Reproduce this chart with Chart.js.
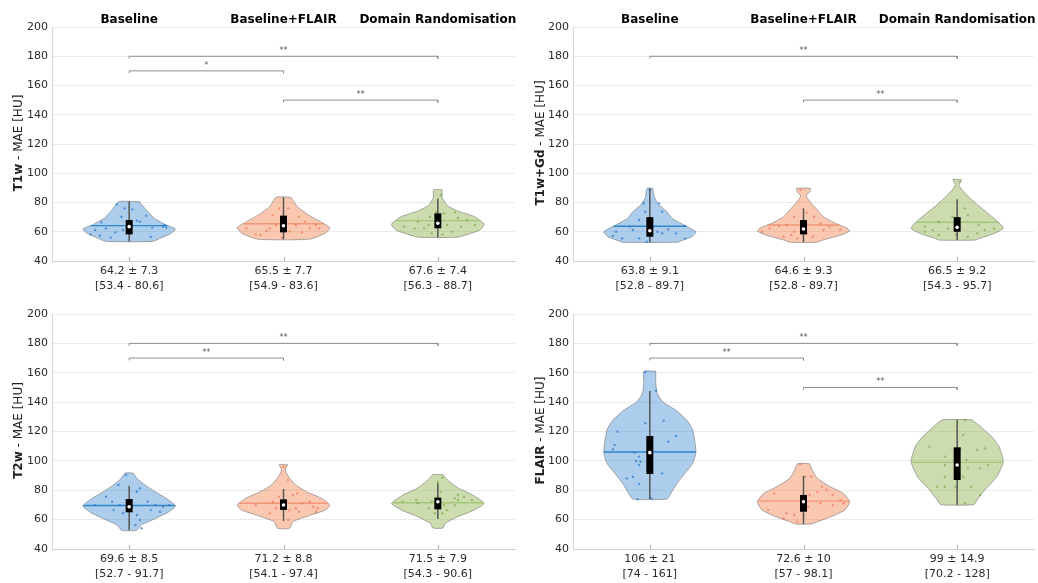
<!DOCTYPE html>
<html>
<head>
<meta charset="utf-8">
<script src="https://cdn.jsdelivr.net/npm/chart.js@4.4.1/dist/chart.umd.min.js"></script>
<style>
body{margin:0;background:#fff;width:1038px;height:583px;overflow:hidden;position:relative}
canvas{position:absolute}
</style>
</head>
<body>
<canvas id="c1" width="519" height="292" style="left:0;top:0"></canvas>
<canvas id="c2" width="518" height="292" style="left:520px;top:0"></canvas>
<canvas id="c3" width="519" height="291" style="left:0;top:292px"></canvas>
<canvas id="c4" width="518" height="291" style="left:520px;top:292px"></canvas>
<script>
// categories and panels
const categories = ["Baseline", "Baseline+FLAIR", "Domain Randomisation"]
const panelNames = ["T1w", "T1w+Gd", "T2w", "FLAIR"]

// summary numbers printed under each violin
const t1wMean = [64.2, 65.5, 67.6], t1wSd = [7.3, 7.7, 7.4], t1wMin = [53.4, 54.9, 56.3], t1wMax = [80.6, 83.6, 88.7]
const gdMean = [63.8, 64.6, 66.5], gdSd = [9.1, 9.3, 9.2], gdMin = [52.8, 52.8, 54.3], gdMax = [89.7, 89.7, 95.7]
const t2wMean = [69.6, 71.2, 71.5], t2wSd = [8.5, 8.8, 7.9], t2wMin = [52.7, 54.1, 54.3], t2wMax = [91.7, 97.4, 90.6]
const flairMean = [106, 72.6, 99], flairSd = [21, 10, 14.9], flairMin = [74, 57, 70.2], flairMax = [161, 98.1, 128]

// box: [q1, median, q3], whiskers: [low, high]
const t1wBox = [[58.2, 63.5, 68.0], [59.6, 64.1, 71.0], [62.4, 65.8, 72.6]]
const t1wWhisker = [[53.4, 80.6], [54.9, 83.6], [56.3, 82.5]]
const gdBox = [[56.6, 60.7, 70.0], [58.2, 61.9, 68.0], [60.0, 63.0, 70.0]]
const gdWhisker = [[52.8, 89.7], [52.8, 76.0], [54.3, 82.2]]
const t2wBox = [[65.0, 68.8, 74.0], [66.6, 70.0, 73.8], [67.0, 72.2, 75.0]]
const t2wWhisker = [[52.7, 83.1], [59.0, 80.9], [60.4, 84.7]]
const flairBox = [[91.1, 105.6, 116.9], [65.4, 72.2, 76.8], [87.0, 97.2, 109.2]]
const flairWhisker = [[74, 147.6], [57, 89.9], [70.2, 128]]

// violin density profiles: values (top to bottom) and relative density
const t1wProfY = [
  [80.6, 74.9, 69.2, 64.6, 61.9, 59.0, 55.5, 53.4],
  [83.6, 77.1, 71.5, 66.9, 62.8, 59.0, 54.9],
  [88.7, 82.9, 77.8, 74.2, 70.5, 65.3, 61.2, 58.3, 56.3]]
const t1wProfD = [
  [0.22, 0.37, 0.54, 0.80, 1.0, 0.91, 0.67, 0.50],
  [0.16, 0.30, 0.54, 0.80, 1.0, 0.90, 0.56],
  [0.09, 0.10, 0.21, 0.43, 0.78, 1.0, 0.91, 0.65, 0.43]]
const gdProfY = [
  [89.7, 83.4, 78.3, 73.7, 69.2, 64.6, 60.0, 56.6, 53.7, 52.8],
  [89.7, 87.5, 84.4, 79.4, 74.9, 70.3, 65.8, 62.4, 60.5, 57.8, 54.4, 52.8],
  [95.7, 92.0, 88.5, 82.9, 77.1, 71.5, 65.8, 62.4, 59.0, 55.5, 54.3]]
const gdProfD = [
  [0.06, 0.10, 0.20, 0.37, 0.48, 0.74, 1.0, 0.91, 0.67, 0.60],
  [0.15, 0.14, 0.06, 0.17, 0.30, 0.43, 0.69, 0.95, 1.0, 0.82, 0.43, 0.28],
  [0.09, 0.04, 0.11, 0.28, 0.49, 0.71, 0.92, 1.0, 0.82, 0.49, 0.39]]
const t2wProfY = [
  [91.7, 88.1, 83.6, 79.0, 74.5, 69.3, 65.4, 60.9, 56.3, 52.7],
  [97.4, 93.8, 89.2, 83.6, 79.0, 74.5, 70.0, 66.6, 63.1, 58.6, 54.1],
  [90.6, 87.0, 81.3, 76.8, 71.1, 66.6, 62.0, 57.5, 54.3]]
const t2wProfD = [
  [0.09, 0.17, 0.34, 0.56, 0.80, 1.0, 0.86, 0.58, 0.26, 0.16],
  [0.09, 0.04, 0.11, 0.26, 0.50, 0.82, 1.0, 0.91, 0.59, 0.20, 0.13],
  [0.11, 0.21, 0.45, 0.75, 1.0, 0.79, 0.43, 0.16, 0.11]]
const flairProfY = [
  [161, 152.8, 146.0, 140.3, 134.6, 127.8, 121.0, 106.3, 98.3, 91.5, 84.7, 77.9, 74],
  [98.1, 93.8, 88.1, 82.4, 77.9, 72.2, 66.6, 62.0, 58.6, 57],
  [128, 123.3, 116.5, 109.7, 99.4, 89.2, 80.2, 73.4, 70.2]]
const flairProfD = [
  [0.13, 0.13, 0.16, 0.28, 0.56, 0.80, 0.93, 1.0, 0.93, 0.76, 0.59, 0.46, 0.37],
  [0.13, 0.19, 0.30, 0.58, 0.86, 1.0, 0.90, 0.60, 0.30, 0.17],
  [0.32, 0.51, 0.75, 0.91, 1.0, 0.86, 0.60, 0.43, 0.36]]

// individual subjects: [jitter, value]
const t1wPoints = [
  [[-0.08,78.7],[-0.03,76.0],[0.02,75.3],[-0.05,70.3],[0.05,67.6],[0.11,71.0],[-0.18,66.4],[-0.22,61.2],[-0.25,58.2],[-0.12,56.0],[-0.15,62.3],[-0.04,61.2],[0.15,62.8],[0.22,63.5],[0.24,62.8],[0.14,56.6],[0.07,66.9],[-0.09,59.6],[0.23,64.6],[-0.19,57.3]],
  [[-0.03,76.0],[0.03,76.0],[-0.07,71.4],[0.10,70.3],[0.14,66.9],[-0.05,64.6],[0.08,64.6],[0.21,64.6],[0.17,62.3],[-0.09,62.3],[-0.11,60.5],[0.04,60.1],[0.12,59.6],[-0.15,57.8],[-0.01,55.9],[-0.24,62.3],[-0.18,58.2],[0.23,62.3]],
  [[0.02,85.1],[-0.01,73.7],[-0.05,70.3],[0.04,72.6],[0.11,73.3],[0.13,69.2],[-0.13,66.9],[-0.22,63.5],[-0.15,62.3],[-0.06,64.6],[0.06,64.6],[0.15,63.5],[0.24,64.6],[0.09,60.1],[-0.04,58.9],[-0.09,62.3],[0.19,68.0],[0.03,58.2]]]
const gdPoints = [
  [[0,88.5],[-0.04,79.4],[0.06,79.4],[-0.03,73.7],[0.08,73.7],[-0.07,68.0],[-0.13,63.5],[-0.22,60.0],[-0.24,57.1],[-0.18,55.5],[-0.07,55.5],[-0.02,53.2],[0.05,60.0],[0.08,58.9],[0.12,61.6],[0.17,58.9],[0.23,55.5],[0.02,63.5],[-0.11,61.2],[0.23,63.9]],
  [[-0.02,88.5],[0.02,73.0],[0.07,70.3],[-0.06,70.3],[-0.11,64.6],[-0.16,63.9],[-0.22,62.3],[0.11,65.7],[0.17,63.5],[0.24,61.6],[-0.06,60.0],[-0.08,57.8],[-0.04,55.5],[-0.13,56.6],[0.06,56.6],[0.13,61.2],[0.02,58.9],[-0.27,60.0]],
  [[0.02,94.2],[0.05,76.0],[0.07,71.4],[-0.03,70.3],[-0.12,66.9],[-0.21,63.5],[-0.16,61.2],[-0.06,62.3],[0.14,64.6],[0.18,61.2],[0.13,58.9],[0.07,56.6],[-0.01,57.8],[0.24,62.3],[-0.12,57.8],[-0.21,60.0]]]
const t2wPoints = [
  [[-0.02,90.4],[-0.07,83.6],[0.07,81.3],[0.05,79.0],[-0.15,75.6],[-0.11,72.2],[-0.06,69.9],[0.12,72.2],[0.17,69.9],[0.22,68.8],[0.26,69.9],[0.14,66.5],[0.20,65.4],[-0.04,64.3],[0.05,63.1],[0.07,59.7],[0.04,56.3],[-0.10,66.5],[0.08,54.1],[-0.22,69.9]],
  [[0,96.0],[0.03,87.0],[0.06,76.8],[0.09,77.9],[-0.03,75.6],[-0.07,72.2],[0.12,71.1],[0.17,72.2],[0.19,68.8],[0.22,67.7],[0.21,65.4],[-0.09,64.3],[-0.05,67.7],[0.04,66.5],[0.08,67.7],[0.03,59.7],[-0.18,69.9],[0.10,65.4]],
  [[0.03,88.6],[0,85.8],[0.02,79.0],[0.13,76.8],[0.11,74.5],[0.17,75.6],[0.22,73.4],[-0.14,73.4],[-0.13,71.1],[-0.04,72.2],[-0.06,67.7],[0.04,69.9],[0.06,66.5],[0.11,69.9],[-0.02,64.3],[0.03,64.3],[-0.23,72.2],[0.13,73.4]]]
const flairPoints = [
  [[-0.03,160.4],[0.04,147.8],[-0.03,125.6],[0.09,127.4],[-0.21,119.9],[0.17,116.9],[0.12,113.1],[-0.23,110.8],[-0.24,107.8],[-0.10,105.6],[-0.07,102.9],[-0.06,99.4],[-0.09,99.9],[-0.07,97.2],[0.08,91.5],[-0.11,89.2],[-0.15,88.1],[-0.07,84.2],[0.01,74.5],[-0.08,73.8],[0,91.5]],
  [[-0.02,97.6],[0.01,89.2],[0.05,89.2],[0.12,82.4],[0.15,80.2],[0.09,79.0],[0.04,76.8],[-0.19,77.9],[0.19,76.8],[0.24,73.4],[0.26,71.1],[0.19,69.9],[-0.23,66.5],[-0.11,64.3],[-0.06,63.1],[-0.13,60.9],[-0.04,58.6],[0,63.1],[0.03,68.8],[0.11,71.1]],
  [[0.05,127.6],[0.04,117.6],[-0.18,109.7],[0.02,108.5],[0.13,107.4],[0.18,108.5],[0.06,100.6],[-0.08,102.9],[0.15,94.9],[0.20,97.2],[-0.08,97.2],[0.07,94.9],[-0.08,89.2],[0.04,89.2],[-0.13,82.4],[-0.08,82.4],[-0.01,82.4],[0.09,82.4],[0.15,76.8],[0.05,71.1]]]

// significance brackets: [from, to, level, label]
const t1wSig = [[1, 3, 180, "**"], [1, 2, 170, "*"], [2, 3, 150, "**"]]
const gdSig = [[1, 3, 180, "**"], [2, 3, 150, "**"]]
const t2wSig = [[1, 3, 180, "**"], [1, 2, 170, "**"]]
const flairSig = [[1, 3, 180, "**"], [1, 2, 170, "**"], [2, 3, 150, "**"]]

const yTickMin = 40, yTickMax = 200, yTickStep = 20

// styles
const HALF = 0.3
const fillColors = ["rgba(72,144,210,0.45)", "rgba(244,121,70,0.42)", "rgba(144,178,78,0.45)"]
const meanColors = ["#2f86cc", "#f2967a", "#a4c67a"]
const dotColors = ["rgba(40,120,205,0.7)", "rgba(236,110,70,0.6)", "rgba(110,165,55,0.6)"]
const FONT = "'DejaVu Sans', sans-serif"

function widthAt(ys, ds, v){
  for(let k=0;k<ys.length-1;k++){
    if(v<=ys[k] && v>=ys[k+1]){
      let t=(ys[k]-v)/(ys[k]-ys[k+1])
      return ds[k]+(ds[k+1]-ds[k])*t
    }
  }
  return ds[ds.length-1]
}

function outline(c, ys, ds){
  let right = ys.map((y,k)=>({x:c+HALF*ds[k], y:y}))
  let left = ys.map((y,k)=>({x:c-HALF*ds[k], y:y})).reverse()
  return right.concat(left, [right[0]])
}

function makePanel(p){
  let datasets = []
  for(let i=0;i<3;i++){
    let c = i+1
    let wm = HALF*widthAt(p.profY[i], p.profD[i], p.mean[i])
    datasets.push({data:outline(c,p.profY[i],p.profD[i]), showLine:true, fill:"shape",
      backgroundColor:fillColors[i], borderColor:"rgba(110,110,110,0.7)", borderWidth:0.8,
      pointRadius:0, tension:0.18, order:6})
    datasets.push({data:[{x:c-wm,y:p.mean[i]},{x:c+wm,y:p.mean[i]}], showLine:true,
      borderColor:meanColors[i], borderWidth:1.4, pointRadius:0, order:5})
    datasets.push({data:p.points[i].map(d=>({x:c+d[0], y:d[1]})), showLine:false,
      pointRadius:1.2, pointBackgroundColor:dotColors[i], pointBorderWidth:0, order:4})
    datasets.push({data:[{x:c,y:p.whisker[i][0]},{x:c,y:p.whisker[i][1]}], showLine:true,
      borderColor:"#555", borderWidth:1.5, pointRadius:0, order:3})
    datasets.push({data:[{x:c,y:p.box[i][0]},{x:c,y:p.box[i][2]}], showLine:true,
      borderColor:"#000", borderWidth:7, borderCapStyle:"butt", pointRadius:0, order:2})
    datasets.push({data:[{x:c,y:p.box[i][1]}], showLine:false, pointRadius:1.8,
      pointBackgroundColor:"#fff", pointBorderWidth:0, order:1})
  }
  p.sig.forEach(s=>{
    datasets.push({data:[{x:s[0],y:s[2]-1.6},{x:s[0],y:s[2]},{x:s[1],y:s[2]},{x:s[1],y:s[2]-1.6}],
      showLine:true, borderColor:"#8c8c8c", borderWidth:1, pointRadius:0, order:7})
  })

  let labels = p.mean.map((m,i)=>[m+" \u00b1 "+p.sd[i], "["+p.min[i]+" - "+p.max[i]+"]"])

  let decor = {
    id:"decor",
    afterDraw(chart){
      let ctx = chart.ctx, xs = chart.scales.x, ys = chart.scales.y, a = chart.chartArea
      ctx.save()
      // category ticks on the bottom axis
      ctx.strokeStyle = "#b0b0b0"; ctx.lineWidth = 1
      for(let c=1;c<=3;c++){
        let px = Math.round(xs.getPixelForValue(c))+0.5
        ctx.beginPath(); ctx.moveTo(px,a.bottom); ctx.lineTo(px,a.bottom-4); ctx.stroke()
      }
      // stars
      ctx.fillStyle = "#555"; ctx.font = "8px "+FONT; ctx.textAlign = "center"; ctx.textBaseline = "alphabetic"
      p.sig.forEach(s=>{
        ctx.fillText(s[3], xs.getPixelForValue((s[0]+s[1])/2), ys.getPixelForValue(s[2])-3)
      })
      // y title with bold modality
      let bold = "bold 12px "+FONT, reg = "12px "+FONT
      let part2 = " - MAE [HU]"
      ctx.font = bold; let w1 = ctx.measureText(p.name).width
      ctx.font = reg; let w2 = ctx.measureText(part2).width
      ctx.translate(p.titleX, (a.top+a.bottom)/2-1)
      ctx.rotate(-Math.PI/2)
      ctx.textAlign = "left"; ctx.textBaseline = "middle"; ctx.fillStyle = "#222"
      ctx.font = bold; ctx.fillText(p.name, -(w1+w2)/2, 0)
      ctx.font = reg; ctx.fillText(part2, -(w1+w2)/2+w1, 0)
      ctx.restore()
    }
  }

  let scales = {
    x:{type:"linear", min:0.5, max:3.5, position:"bottom",
      afterBuildTicks:s=>{s.ticks=[1,2,3].map(v=>({value:v}))},
      afterFit:s=>{s.height=p.bottomH},
      grid:{display:false, drawTicks:false},
      border:{display:true, color:"#cdcdcd", width:1},
      ticks:{padding:3, color:"#2a2a2a", maxRotation:0, autoSkip:false,
        font:{family:FONT, size:11, lineHeight:1.36},
        callback:v=>labels[v-1]}},
    y:{min:yTickMin, max:yTickMax,
      afterFit:s=>{s.width=p.yW},
      grid:{color:"#ebebeb", drawTicks:false},
      border:{display:true, color:"#d6d6d6"},
      ticks:{stepSize:yTickStep, padding:4, color:"#2a2a2a", font:{family:FONT, size:11}}}
  }
  if(p.showTitles){
    scales.xTop = {type:"linear", min:0.5, max:3.5, position:"top",
      afterBuildTicks:s=>{s.ticks=[1,2,3].map(v=>({value:v}))},
      afterFit:s=>{s.height=p.topH},
      grid:{display:false, drawTicks:false}, border:{display:false},
      ticks:{padding:0, color:"#000", maxRotation:0, autoSkip:false,
        font:{family:FONT, size:12, weight:"bold"},
        callback:v=>categories[v-1]}}
  }

  new Chart(document.getElementById(p.id), {
    type:"scatter",
    data:{datasets:datasets},
    options:{
      responsive:false, animation:false, events:[],
      layout:{padding:{left:0, right:p.padRight, top:p.showTitles?0:p.topH, bottom:0}},
      plugins:{legend:{display:false}, tooltip:{enabled:false}},
      scales:scales
    },
    plugins:[decor]
  })
}

makePanel({id:"c1", name:panelNames[0], mean:t1wMean, sd:t1wSd, min:t1wMin, max:t1wMax,
  box:t1wBox, whisker:t1wWhisker, profY:t1wProfY, profD:t1wProfD, points:t1wPoints, sig:t1wSig,
  showTitles:true, topH:27, bottomH:31, yW:52, padRight:4, titleX:19})
makePanel({id:"c2", name:panelNames[1], mean:gdMean, sd:gdSd, min:gdMin, max:gdMax,
  box:gdBox, whisker:gdWhisker, profY:gdProfY, profD:gdProfD, points:gdPoints, sig:gdSig,
  showTitles:true, topH:27, bottomH:31, yW:53, padRight:1, titleX:21})
makePanel({id:"c3", name:panelNames[2], mean:t2wMean, sd:t2wSd, min:t2wMin, max:t2wMax,
  box:t2wBox, whisker:t2wWhisker, profY:t2wProfY, profD:t2wProfD, points:t2wPoints, sig:t2wSig,
  showTitles:false, topH:22, bottomH:34, yW:52, padRight:4, titleX:19})
makePanel({id:"c4", name:panelNames[3], mean:flairMean, sd:flairSd, min:flairMin, max:flairMax,
  box:flairBox, whisker:flairWhisker, profY:flairProfY, profD:flairProfD, points:flairPoints, sig:flairSig,
  showTitles:false, topH:22, bottomH:34, yW:53, padRight:1, titleX:21})
</script>
</body>
</html>
